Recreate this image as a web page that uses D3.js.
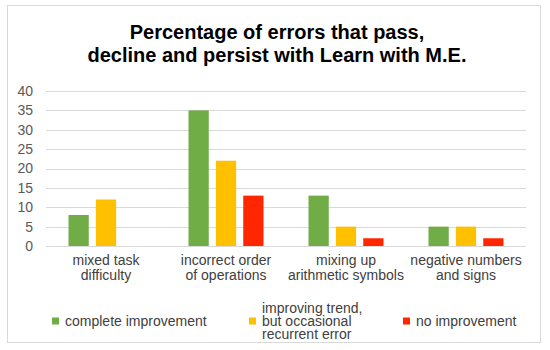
<!DOCTYPE html>
<html>
<head>
<meta charset="utf-8">
<script src="https://cdn.jsdelivr.net/npm/d3@7"></script>
<style>
  body { margin: 0; background: #fff; }
  svg { font-family: "Liberation Sans", Arial, sans-serif; }
</style>
</head>
<body>
<div class="app"></div>
<script>
// chart data
var categories = [
  ["mixed task", "difficulty"],
  ["incorrect order", "of operations"],
  ["mixing up", "arithmetic symbols"],
  ["negative numbers", "and signs"]
];
var seriesNames = ["complete improvement", "improving trend, but occasional recurrent error", "no improvement"];
var legendLines = [["complete improvement"], ["improving trend,", "but occasional", "recurrent error"], ["no improvement"]];
var completeImprovement = [8, 35, 13, 5];
var improvingTrend = [12, 22, 5, 5];
var noImprovement = [0, 13, 2, 2];
var yTicks = [0, 5, 10, 15, 20, 25, 30, 35, 40];
var titleLines = ["Percentage of errors that pass,", "decline and persist with Learn with M.E."];

var colors = ["#70ad47", "#ffc000", "#ff2600"];
var values = [completeImprovement, improvingTrend, noImprovement];

var W = 550, H = 350;
var margin = {top: 91, right: 24, bottom: 104, left: 46},
    width = W - margin.left - margin.right,
    height = H - margin.top - margin.bottom;

var svg = d3.select(".app").append("svg")
    .attr("width", W)
    .attr("height", H);

// outer frame
svg.append("rect")
    .attr("x", 7.5).attr("y", 5.5)
    .attr("width", 533).attr("height", 337)
    .attr("fill", "#fff")
    .attr("stroke", "#d9d9d9")
    .attr("stroke-width", 1);

// title
svg.append("g").selectAll("text")
    .data(titleLines)
    .enter().append("text")
    .attr("x", 277)
    .attr("y", function(d, i) { return 39 + i * 23; })
    .attr("text-anchor", "middle")
    .attr("font-size", "20px")
    .attr("font-weight", "bold")
    .attr("fill", "#000")
    .text(function(d) { return d; });

var g = svg.append("g")
    .attr("transform", "translate(" + margin.left + "," + margin.top + ")");

var catIdx = categories.map(function(d, i) { return i; });
var x0 = d3.scaleBand().domain(catIdx).range([0, width]);
var x1 = d3.scaleBand().domain([0, 1, 2]).range([22.5, x0.bandwidth() - 22.5]).paddingInner(0.26);
var y = d3.scaleLinear().domain([0, 40]).range([height, 0]);

// gridlines
g.append("g").selectAll("line")
    .data(yTicks)
    .enter().append("line")
    .attr("x1", 0).attr("x2", width)
    .attr("y1", function(d) { return Math.round(y(d)) + 0.5; })
    .attr("y2", function(d) { return Math.round(y(d)) + 0.5; })
    .attr("stroke", "#d9d9d9")
    .attr("stroke-width", 1);

// y axis labels
var yAxis = g.append("g")
    .call(d3.axisLeft(y).tickValues(yTicks).tickSize(0).tickPadding(13));
yAxis.select(".domain").remove();
yAxis.selectAll("text")
    .attr("font-size", "14px")
    .attr("font-family", "Liberation Sans, Arial, sans-serif")
    .attr("fill", "#595959");

// bars
var groups = g.selectAll(".grp")
    .data(catIdx)
    .enter().append("g")
    .attr("class", "grp")
    .attr("transform", function(d) { return "translate(" + x0(d) + ",0)"; });

groups.selectAll("rect")
    .data(function(c) { return values.map(function(v, s) { return {s: s, v: v[c]}; }); })
    .enter().append("rect")
    .attr("x", function(d) { return x1(d.s); })
    .attr("width", x1.bandwidth())
    .attr("y", function(d) { return y(d.v); })
    .attr("height", function(d) { return height - y(d.v); })
    .attr("fill", function(d) { return colors[d.s]; });

// category labels
var xAxis = g.append("g")
    .attr("transform", "translate(0," + height + ")");
xAxis.selectAll("text")
    .data(catIdx)
    .enter().append("text")
    .attr("x", function(d) { return x0(d) + x0.bandwidth() / 2; })
    .attr("text-anchor", "middle")
    .attr("font-size", "14px")
    .attr("fill", "#404040")
    .each(function(d) {
      var t = d3.select(this);
      categories[d].forEach(function(line, i) {
        t.append("tspan")
          .attr("x", x0(d) + x0.bandwidth() / 2)
          .attr("y", 19 + i * 15)
          .text(line);
      });
    });

// legend
var legendX = [52, 249, 403];
var legend = svg.append("g");
var items = legend.selectAll("g")
    .data(seriesNames)
    .enter().append("g")
    .attr("transform", function(d, i) { return "translate(" + legendX[i] + ",321)"; });

items.append("rect")
    .attr("x", 0).attr("y", -3.5)
    .attr("width", 7).attr("height", 7)
    .attr("fill", function(d, i) { return colors[i]; });

items.append("text")
    .attr("font-size", "14px")
    .attr("fill", "#404040")
    .each(function(d, i) {
      var t = d3.select(this);
      var lines = legendLines[i];
      lines.forEach(function(line, j) {
        t.append("tspan")
          .attr("x", 13)
          .attr("y", 5 + (j - (lines.length - 1) / 2) * 13)
          .text(line);
      });
    });
</script>
</body>
</html>
